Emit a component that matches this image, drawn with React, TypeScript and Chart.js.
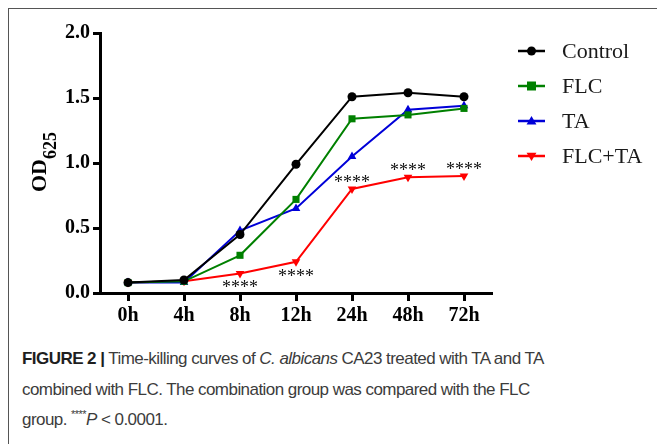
import React, { useEffect, useRef } from "react";
import { Chart, registerables } from "chart.js";

Chart.register(...registerables);

const timePoints = ["0h", "4h", "8h", "12h", "24h", "48h", "72h"];
const controlOD = [0.08, 0.1, 0.45, 0.99, 1.51, 1.54, 1.51];
const flcOD = [0.08, 0.09, 0.29, 0.72, 1.34, 1.37, 1.42];
const taOD = [0.08, 0.08, 0.48, 0.65, 1.05, 1.41, 1.44];
const comboOD = [0.08, 0.09, 0.15, 0.24, 0.8, 0.89, 0.9];
const yTicks = [0, 0.5, 1.0, 1.5, 2.0];
const significance = ["", "", "****", "****", "****", "****", "****"];
const significanceSide = ["", "", "below", "below", "above", "above", "above"];
const seriesNames = ["Control", "FLC", "TA", "FLC+TA"];
const seriesColors = ["#000000", "#008000", "#0000d8", "#ff0000"];
const seriesMarkers = ["circle", "rect", "triangle", "triangleDown"];

function drawMarker(ctx: CanvasRenderingContext2D, kind: string, x: number, y: number, r: number, color: string) {
  ctx.save();
  ctx.fillStyle = color;
  ctx.beginPath();
  if (kind === "circle") {
    ctx.arc(x, y, r, 0, Math.PI * 2);
  } else if (kind === "rect") {
    ctx.rect(x - r, y - r, 2 * r, 2 * r);
  } else if (kind === "triangle") {
    ctx.moveTo(x, y - r * 1.1);
    ctx.lineTo(x + r * 1.1, y + r * 0.75);
    ctx.lineTo(x - r * 1.1, y + r * 0.75);
    ctx.closePath();
  } else {
    ctx.moveTo(x, y + r * 1.1);
    ctx.lineTo(x + r * 1.1, y - r * 0.75);
    ctx.lineTo(x - r * 1.1, y - r * 0.75);
    ctx.closePath();
  }
  ctx.fill();
  ctx.restore();
}

const overlayPlugin = {
  id: "overlay",
  afterDatasetsDraw(chart: any) {
    const ctx: CanvasRenderingContext2D = chart.ctx;
    const meta = chart.getDatasetMeta(3);
    ctx.save();
    ctx.fillStyle = "#111";
    ctx.font = '18px "Liberation Serif", "Times New Roman", serif';
    ctx.textAlign = "center";
    ctx.textBaseline = "middle";
    significance.forEach((s, i) => {
      if (!s) return;
      const p = meta.data[i];
      const dy = significanceSide[i] === "below" ? 15 : -6;
      ctx.fillText(s, p.x, p.y + dy);
    });
    ctx.restore();
  },
  afterDraw(chart: any) {
    const ctx: CanvasRenderingContext2D = chart.ctx;
    ctx.save();
    chart.data.datasets.forEach((ds: any, i: number) => {
      const y = 51 + 35 * i;
      ctx.strokeStyle = ds.borderColor;
      ctx.lineWidth = 2.5;
      ctx.beginPath();
      ctx.moveTo(518, y);
      ctx.lineTo(545, y);
      ctx.stroke();
      drawMarker(ctx, seriesMarkers[i], 531.5, y, 4.5, ds.borderColor);
      ctx.fillStyle = "#1a1a1a";
      ctx.font = '22px "Liberation Serif", "Times New Roman", serif';
      ctx.textAlign = "left";
      ctx.textBaseline = "middle";
      ctx.fillText(ds.label, 562, y + 1);
    });
    ctx.restore();
    ctx.save();
    ctx.translate(46, 162);
    ctx.rotate(-Math.PI / 2);
    ctx.fillStyle = "#000";
    ctx.textBaseline = "alphabetic";
    ctx.font = 'bold 22px "Liberation Serif", "Times New Roman", serif';
    const w1 = ctx.measureText("OD").width;
    ctx.font = 'bold 18px "Liberation Serif", "Times New Roman", serif';
    const w2 = ctx.measureText("625").width;
    const start = -(w1 + w2) / 2;
    ctx.font = 'bold 22px "Liberation Serif", "Times New Roman", serif';
    ctx.textAlign = "left";
    ctx.fillText("OD", start, 0);
    ctx.font = 'bold 18px "Liberation Serif", "Times New Roman", serif';
    ctx.fillText("625", start + w1, 10);
    ctx.restore();
  },
};

export default function App() {
  const canvasRef = useRef<HTMLCanvasElement | null>(null);

  useEffect(() => {
    if (!canvasRef.current) return;
    const values = [controlOD, flcOD, taOD, comboOD];
    const chart = new Chart(canvasRef.current, {
      type: "line",
      data: {
        labels: timePoints,
        datasets: values.map((v, i) => ({
          label: seriesNames[i],
          data: v,
          borderColor: seriesColors[i],
          backgroundColor: seriesColors[i],
          borderWidth: 2,
          pointStyle: seriesMarkers[i] === "triangleDown" ? "triangle" : seriesMarkers[i],
          pointRotation: seriesMarkers[i] === "triangleDown" ? 180 : 0,
          pointRadius: seriesMarkers[i] === "circle" ? 4.5 : 5,
          pointBorderWidth: 0,
          pointBackgroundColor: seriesColors[i],
          pointBorderColor: seriesColors[i],
          tension: 0,
          fill: false,
        })) as any,
      },
      options: {
        responsive: false,
        animation: false,
        events: [],
        layout: { padding: { left: 0, right: 165, top: 33, bottom: 0 } },
        plugins: {
          legend: { display: false },
          tooltip: { enabled: false },
          title: { display: false },
        },
        scales: {
          x: {
            type: "category",
            offset: true,
            afterFit: (s: any) => {
              s.height = 37;
            },
            border: { display: true, color: "#000", width: 3 },
            grid: {
              display: true,
              drawOnChartArea: false,
              drawTicks: true,
              tickLength: 8,
              tickWidth: 3,
              tickColor: "#000",
              offset: false,
            },
            ticks: {
              color: "#000",
              padding: 3,
              maxRotation: 0,
              font: { family: '"Liberation Serif", "Times New Roman", serif', size: 20, weight: "bold" },
            },
          },
          y: {
            type: "linear",
            min: 0,
            max: 2,
            afterFit: (s: any) => {
              s.width = 100;
            },
            afterBuildTicks: (s: any) => {
              s.ticks = yTicks.map((v) => ({ value: v }));
            },
            border: { display: true, color: "#000", width: 3 },
            grid: {
              display: true,
              drawOnChartArea: false,
              drawTicks: true,
              tickLength: 7,
              tickWidth: 3,
              tickColor: "#000",
            },
            ticks: {
              color: "#000",
              padding: 3,
              callback: (v: any) => Number(v).toFixed(1),
              font: { family: '"Liberation Serif", "Times New Roman", serif', size: 20, weight: "bold" },
            },
          },
        },
      },
      plugins: [overlayPlugin],
    });
    return () => chart.destroy();
  }, []);

  return (
    <div style={{ position: "absolute", left: 0, top: 0, width: 657, height: 444, overflow: "hidden", background: "#fff" }}>
      <div
        style={{
          position: "absolute",
          left: 8,
          top: 8,
          width: 700,
          height: 500,
          borderTop: "1px solid #555",
          borderLeft: "1px solid #555",
        }}
      />
      <canvas ref={canvasRef} width={657} height={330} style={{ position: "absolute", left: 0, top: 0 }} />
      <div
        style={{
          position: "absolute",
          left: 22,
          top: 344,
          font: '17px "Liberation Sans", Arial, sans-serif',
          letterSpacing: "-0.55px",
          lineHeight: "30.5px",
          color: "#3c3c3c",
          whiteSpace: "nowrap",
        }}
      >
        <b style={{ color: "#1e1e1e" }}>FIGURE 2 |</b> Time-killing curves of <i>C. albicans</i> CA23 treated with TA and TA
        <br />
        combined with FLC. The combination group was compared with the FLC
        <br />
        group. <sup style={{ fontSize: "11px", lineHeight: 0 }}>****</sup>
        <i>P</i> &lt; 0.0001.
      </div>
    </div>
  );
}
